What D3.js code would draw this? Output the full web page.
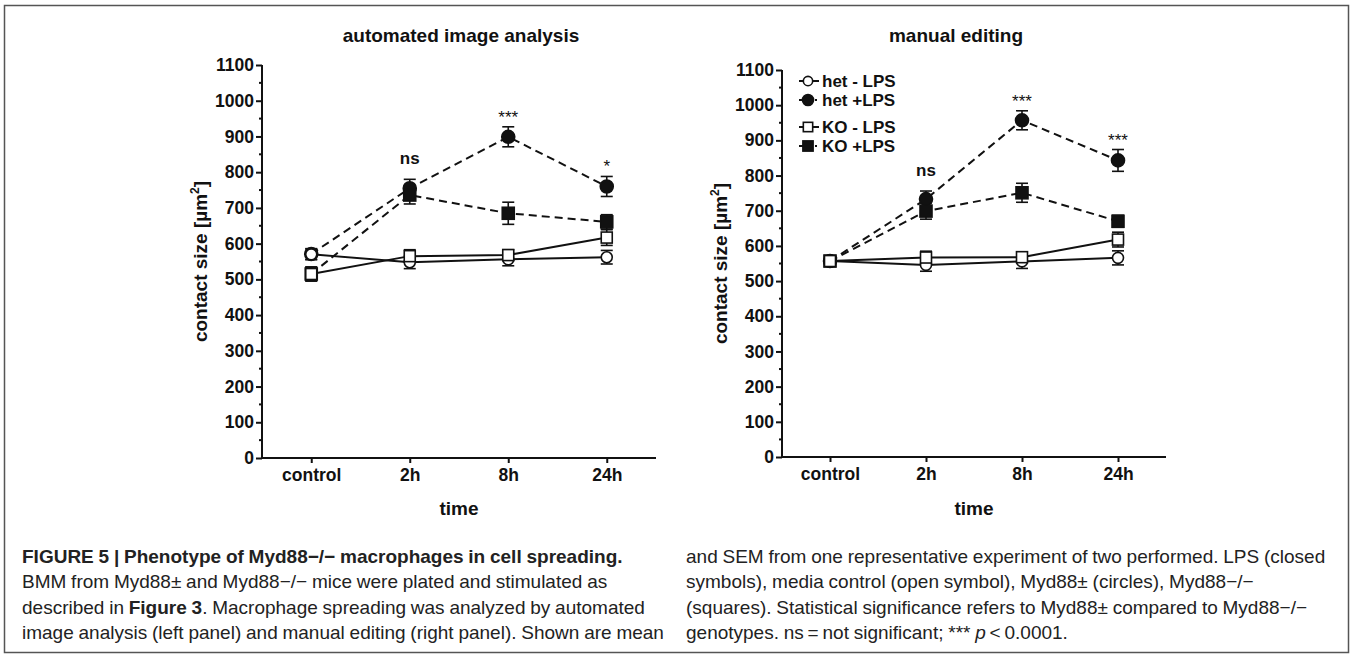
<!DOCTYPE html>
<html lang="en">
<head>
<meta charset="utf-8">
<title>Myd88 cell spreading</title>
<script src="https://cdn.jsdelivr.net/npm/d3@7"></script>
<style>
  body { margin: 0; background: #fff; }
  svg text { font-family: "Liberation Sans", Arial, Helvetica, sans-serif; fill: #111; }
  .axis path, .axis line { stroke: #111; stroke-width: 2; }
  .axis text { font-weight: bold; font-size: 17.5px; }
</style>
</head>
<body>
<script>
// ---- data ----
var categories = ["control", "2h", "8h", "24h"];
var seriesNames = ["het - LPS", "het +LPS", "KO - LPS", "KO +LPS"];

// automated image analysis (left panel), means and SEM
var autoHetMinus    = [570, 548, 556, 562];
var autoHetMinusErr = [15, 18, 18, 19];
var autoHetPlus     = [571, 755, 899, 760];
var autoHetPlusErr  = [15, 25, 28, 28];
var autoKoMinus     = [515, 565, 568, 617];
var autoKoMinusErr  = [20, 18, 15, 22];
var autoKoPlus      = [515, 736, 685, 661];
var autoKoPlusErr   = [19, 25, 31, 20];
var autoSig = ["", "ns", "***", "*"];

// manual editing (right panel)
var manHetMinus    = [557, 546, 556, 566];
var manHetMinusErr = [12, 18, 20, 20];
var manHetPlus     = [557, 733, 957, 843];
var manHetPlusErr  = [12, 23, 27, 31];
var manKoMinus     = [557, 567, 568, 618];
var manKoMinusErr  = [12, 18, 15, 21];
var manKoPlus      = [557, 699, 751, 670];
var manKoPlusErr   = [12, 23, 27, 17];
var manSig = ["", "ns", "***", "***"];

var yTicks = d3.range(0, 1101, 100);
var yMinor = d3.range(50, 1100, 100);

// open symbols = no LPS (solid line), closed = +LPS (dashed line)
var seriesStyle = [
  {fill: "#fff", shape: "circle", dash: null},
  {fill: "#111", shape: "circle", dash: "8,5"},
  {fill: "#fff", shape: "square", dash: null},
  {fill: "#111", shape: "square", dash: "8,5"}
];

var W = 1352, H = 656;
var svg = d3.select("body").append("svg")
  .attr("width", W).attr("height", H);

// figure frame
svg.append("rect")
  .attr("x", 4.5).attr("y", 5.5)
  .attr("width", 1344).attr("height", 647)
  .attr("fill", "none").attr("stroke", "#555").attr("stroke-width", 1.5);

function drawMarker(g, style, open, scale) {
  scale = scale || 1;
  if (style.shape === "circle") {
    g.append("circle").attr("r", (open ? 5.5 : 6.5) * scale)
      .attr("fill", style.fill).attr("stroke", "#111").attr("stroke-width", 1.6);
  } else {
    var s = (open ? 11 : 12) * scale;
    g.append("rect").attr("x", -s / 2).attr("y", -s / 2)
      .attr("width", s).attr("height", s)
      .attr("fill", style.fill).attr("stroke", "#111").attr("stroke-width", 1.6);
  }
}

function drawPanel(p) {
  var x = d3.scalePoint().domain(categories).range(p.xRange).padding(0.5);
  var y = d3.scaleLinear().domain([0, 1100]).range(p.yRange);
  var g = svg.append("g");

  // axes
  var yAxis = g.append("g").attr("class", "axis")
    .attr("transform", "translate(" + p.xRange[0] + ",0)")
    .call(d3.axisLeft(y).tickValues(yTicks).tickFormat(d3.format("d"))
      .tickSize(6).tickSizeOuter(0).tickPadding(2));
  yAxis.selectAll(".minor").data(yMinor).enter().append("line")
    .attr("class", "minor")
    .attr("x1", -3).attr("x2", 0)
    .attr("y1", function(d) { return y(d); })
    .attr("y2", function(d) { return y(d); });
  yAxis.select(".domain").attr("d", "M0," + y(1100) + "V" + y(0));

  var xAxis = g.append("g").attr("class", "axis")
    .attr("transform", "translate(0," + y(0) + ")")
    .call(d3.axisBottom(x).tickSize(5).tickSizeOuter(0).tickPadding(6));
  xAxis.select(".domain").attr("d", "M" + (p.xRange[0] - 1) + ",0H" + p.xRange[1]);

  // titles
  var cx = (p.xRange[0] + p.xRange[1]) / 2;
  g.append("text").attr("x", p.titleX).attr("y", 42)
    .attr("text-anchor", "middle").attr("font-weight", "bold").attr("font-size", "19px")
    .text(p.title);
  g.append("text").attr("x", cx).attr("y", 515)
    .attr("text-anchor", "middle").attr("font-weight", "bold").attr("font-size", "19px")
    .text("time");
  var yl = g.append("text")
    .attr("transform", "translate(" + (p.xRange[0] - 55) + "," + y(550) + ") rotate(-90)")
    .attr("text-anchor", "middle").attr("font-weight", "bold").attr("font-size", "19px");
  yl.append("tspan").text("contact size [µm");
  yl.append("tspan").attr("font-size", "12px").attr("dy", "-8").text("2");
  yl.append("tspan").attr("dy", "8").text("]");

  var line = d3.line()
    .x(function(d, i) { return x(categories[i]); })
    .y(function(d) { return y(d); });

  // lines first
  p.series.forEach(function(s, k) {
    g.append("path").attr("d", line(s.mean))
      .attr("fill", "none").attr("stroke", "#111").attr("stroke-width", 2)
      .attr("stroke-dasharray", seriesStyle[k].dash);
  });
  // error bars
  p.series.forEach(function(s) {
    var eb = g.append("g").selectAll("g").data(s.mean).enter().append("g")
      .attr("stroke", "#111").attr("stroke-width", 1.6);
    eb.append("line")
      .attr("x1", function(d, i) { return x(categories[i]); })
      .attr("x2", function(d, i) { return x(categories[i]); })
      .attr("y1", function(d, i) { return y(d - s.err[i]); })
      .attr("y2", function(d, i) { return y(d + s.err[i]); });
    [-1, 1].forEach(function(sg) {
      eb.append("line")
        .attr("x1", function(d, i) { return x(categories[i]) - 6; })
        .attr("x2", function(d, i) { return x(categories[i]) + 6; })
        .attr("y1", function(d, i) { return y(d + sg * s.err[i]); })
        .attr("y2", function(d, i) { return y(d + sg * s.err[i]); });
    });
  });
  // markers: filled first, open on top
  [1, 3, 0, 2].forEach(function(k) {
    var s = p.series[k];
    s.mean.forEach(function(v, i) {
      var m = g.append("g").attr("transform", "translate(" + x(categories[i]) + "," + y(v) + ")");
      drawMarker(m, seriesStyle[k], seriesStyle[k].fill === "#fff");
    });
  });

  // significance labels above highest whisker
  p.sig.forEach(function(t, i) {
    if (!t) return;
    var top = d3.max(p.series, function(s) { return s.mean[i] + s.err[i]; });
    var isStar = t.charAt(0) === "*";
    g.append("text")
      .attr("x", x(categories[i])).attr("y", y(top) - (isStar ? 4 : 15))
      .attr("text-anchor", "middle")
      .attr("font-size", "17px")
      .attr("font-weight", isStar ? "normal" : "bold")
      .text(t);
  });

  // legend
  if (p.legend) {
    var ly = [81, 100, 127, 146];
    seriesNames.forEach(function(name, k) {
      var lg = g.append("g").attr("transform", "translate(" + (p.xRange[0] + 17) + "," + ly[k] + ")");
      lg.append("line").attr("x1", 0).attr("x2", 20)
        .attr("stroke", "#111").attr("stroke-width", 2)
        .attr("stroke-dasharray", seriesStyle[k].dash ? "14,2,2,2" : null);
      var m = lg.append("g").attr("transform", "translate(9,0)");
      drawMarker(m, seriesStyle[k], seriesStyle[k].fill === "#fff", 0.85);
      lg.append("text").attr("x", 23).attr("y", 6)
        .attr("font-weight", "bold").attr("font-size", "17px").text(name);
    });
  }
}

drawPanel({
  title: "automated image analysis", titleX: 461,
  xRange: [262, 656], yRange: [458, 65],
  sig: autoSig, legend: false,
  series: [
    {mean: autoHetMinus, err: autoHetMinusErr},
    {mean: autoHetPlus, err: autoHetPlusErr},
    {mean: autoKoMinus, err: autoKoMinusErr},
    {mean: autoKoPlus, err: autoKoPlusErr}
  ]
});

drawPanel({
  title: "manual editing", titleX: 956,
  xRange: [782, 1166], yRange: [457, 70],
  sig: manSig, legend: true,
  series: [
    {mean: manHetMinus, err: manHetMinusErr},
    {mean: manHetPlus, err: manHetPlusErr},
    {mean: manKoMinus, err: manKoMinusErr},
    {mean: manKoPlus, err: manKoPlusErr}
  ]
});

// caption, two columns; each line is a list of [text, style]
var captionLeft = [
  [["FIGURE 5 | Phenotype of Myd88\u2212/\u2212 macrophages in cell spreading.", "b"]],
  [["BMM from Myd88\u00b1 and Myd88\u2212/\u2212 mice were plated and stimulated as", ""]],
  [["described in ", ""], ["Figure 3", "b"], [". Macrophage spreading was analyzed by automated", ""]],
  [["image analysis (left panel) and manual editing (right panel). Shown are mean", ""]]
];
var captionRight = [
  [["and SEM from one representative experiment of two performed. LPS (closed", ""]],
  [["symbols), media control (open symbol), Myd88\u00b1 (circles), Myd88\u2212/\u2212", ""]],
  [["(squares). Statistical significance refers to Myd88\u00b1 compared to Myd88\u2212/\u2212", ""]],
  [["genotypes. ns\u2009=\u2009not significant; *** ", ""], ["p", "i"], ["\u2009<\u20090.0001.", ""]]
];

function drawCaption(lines, x0) {
  var t = svg.append("g").selectAll("text").data(lines).enter().append("text")
    .attr("x", x0)
    .attr("y", function(d, i) { return 563 + i * 25.3; })
    .attr("font-size", "19px").attr("word-spacing", "-0.5px").style("fill", "#222");
  t.selectAll("tspan").data(function(d) { return d; }).enter().append("tspan")
    .attr("font-weight", function(d) { return d[1] === "b" ? "bold" : null; })
    .attr("font-style", function(d) { return d[1] === "i" ? "italic" : null; })
    .text(function(d) { return d[0]; });
}
drawCaption(captionLeft, 22);
drawCaption(captionRight, 686);
</script>
</body>
</html>
